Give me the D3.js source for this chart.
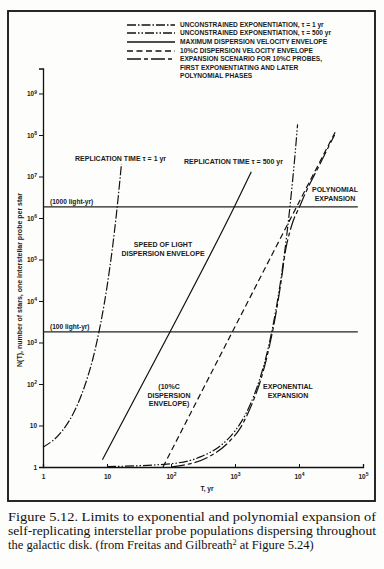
<!doctype html>
<meta charset="utf-8" />
<style>
    body { margin: 0; background: #fff; }
    svg text { font-family: "Liberation Sans", Arial, sans-serif; fill: #1a1a1a; }
    svg .cap { font-family: "Liberation Serif", "Times New Roman", serif; font-size: 12.5px; fill: #111; }
    svg .lbl { font-size: 7px; font-weight: bold; }
    svg .leg { font-size: 6.6px; font-weight: bold; }
</style>
<svg></svg>

<script src="https://cdn.jsdelivr.net/npm/d3@7/dist/d3.min.js"></script>

<script>
    // values: [T in yr, N(T)]
    var tau1 = [[1, 3], [2, 7.4], [3, 20], [4, 55], [5, 150], [6, 400], [7, 1100], [8, 3000],
        [9, 8100], [10, 2.2e4], [11, 6e4], [12, 1.6e5], [13, 4.4e5], [14, 1.2e6], [15, 3.3e6],
        [16, 8.9e6], [16.8, 2e7]];
    var tau500 = [[10, 1.02], [100, 1.2], [300, 1.8], [600, 3.3], [1000, 7.4], [1500, 20],
        [2000, 55], [2500, 150], [3000, 400], [3500, 1100], [4000, 3000], [4500, 8100],
        [5000, 2.2e4], [5500, 6e4], [6000, 1.6e5], [6500, 4.4e5], [7000, 1.2e6], [7500, 3.3e6],
        [8000, 8.9e6], [8500, 2.4e7], [9000, 6.6e7], [9500, 1.8e8]];
    var lightEnvelope = [[8.5, 1.5], [100, 2000], [1000, 2e6], [1800, 1.3e7]];
    var tenPctEnvelope = [[75, 1], [1000, 2400], [10000, 2.4e6], [39000, 1.4e8]];
    var expansion = [[100, 1], [400, 1.8], [800, 4], [1200, 8.5], [1600, 20], [2000, 45],
        [2500, 120], [3000, 330], [3500, 900], [4000, 2400], [4500, 6600], [5000, 1.8e4],
        [5500, 4.9e4], [6000, 1.3e5], [6500, 2.5e5], [7000, 4e5], [8000, 8e5], [10000, 1.75e6],
        [13000, 4.4e6], [16000, 8.5e6], [20000, 1.65e7], [25000, 3.3e7], [30000, 5.8e7],
        [36000, 1.0e8]];

    var distances = [1.85e6, 1.8e3];
    var distanceNames = ["(1000 light-yr)", "(100 light-yr)"];

    var xTicks = [1, 10, 100, 1e3, 1e4, 1e5];
    var yTicks = [1, 10, 100, 1e3, 1e4, 1e5, 1e6, 1e7, 1e8, 1e9];

    var legendNames = [
        ["UNCONSTRAINED EXPONENTIATION, τ = 1 yr"],
        ["UNCONSTRAINED EXPONENTIATION, τ = 500 yr"],
        ["MAXIMUM DISPERSION VELOCITY ENVELOPE"],
        ["10%C DISPERSION VELOCITY ENVELOPE"],
        ["EXPANSION SCENARIO FOR 10%C PROBES,", "FIRST EXPONENTIATING AND LATER", "POLYNOMIAL PHASES"]
    ];

    var series = [tau1, tau500, lightEnvelope, tenPctEnvelope, expansion];
    var dashes = ["9,2,1.5,2", "9,2,1.5,2,1.5,2", null, "6,3.5", "14,3,4,3"];

    var svg = d3.select('svg')
        .attr('width', 384)
        .attr('height', 569)

    svg.append('rect')
        .attr('width', 384).attr('height', 569).attr('fill', '#fdfdfc')

    svg.append('rect')
        .attr('x', 8).attr('y', 11).attr('width', 367).attr('height', 490)
        .attr('fill', 'none').attr('stroke', '#111').attr('stroke-width', 1.8)

    var x = d3.scaleLog().domain([1, 1e5]).range([43, 363]);
    var y = d3.scaleLog().domain([1, 4e9]).range([467, 68.5]);

    svg.append('g')
        .attr('transform', 'translate(0,467)')
        .call(d3.axisBottom(x).tickValues(xTicks).tickSize(-3).tickPadding(7))
    svg.append('g')
        .attr('transform', 'translate(43,0)')
        .call(d3.axisLeft(y).tickValues(yTicks).tickSize(4).tickPadding(2))

    svg.selectAll('.domain').attr('stroke', '#111').attr('stroke-width', 1.3)
    svg.selectAll('.tick line').attr('stroke', '#111')
    // powers of ten as 10 with a raised exponent
    svg.selectAll('.tick text')
        .attr('font-family', '"Liberation Sans", Arial, sans-serif')
        .attr('font-size', 6.5).attr('font-weight', 'bold').attr('fill', '#1a1a1a')
        .each(function (d) {
            var e = Math.round(Math.log10(d));
            var t = d3.select(this).text(e < 2 ? String(d) : '10');
            if (e >= 2) {
                t.append('tspan').attr('dy', '-0.45em').attr('font-size', 5).text(e);
            }
        })

    // distance reference lines
    svg.selectAll('.dist').data(distances).enter().append('line')
        .attr('x1', x(1)).attr('x2', x(8.3e4))
        .attr('y1', function (d) { return y(d); }).attr('y2', function (d) { return y(d); })
        .attr('stroke', '#222').attr('stroke-width', 1.1)
    svg.selectAll('.distName').data(distanceNames).enter().append('text')
        .attr('class', 'leg')
        .attr('x', 50)
        .attr('y', function (d, i) { return y(distances[i]) - 3; })
        .text(function (d) { return d; })

    var line = d3.line()
        .x(function (d) { return x(d[0]); })
        .y(function (d) { return y(d[1]); })
        .curve(d3.curveMonotoneX)

    series.forEach(function (s, i) {
        svg.append('path')
            .attr('d', line(s))
            .attr('fill', 'none')
            .attr('stroke', '#111')
            .attr('stroke-width', 1.2)
            .attr('stroke-dasharray', dashes[i])
    })

    // legend
    var rowY = [25, 33, 42, 51, 59];
    legendNames.forEach(function (names, i) {
        svg.append('line')
            .attr('x1', 127).attr('x2', 175)
            .attr('y1', rowY[i]).attr('y2', rowY[i])
            .attr('stroke', '#111').attr('stroke-width', 1.4)
            .attr('stroke-dasharray', dashes[i])
        names.forEach(function (t, j) {
            svg.append('text').attr('class', 'leg')
                .attr('x', 180).attr('y', rowY[i] + 2.4 + j * 8.5)
                .text(t)
        })
    })

    // annotations
    var notes = [
        { t: ["REPLICATION TIME τ = 1 yr"], x: 75, y: 161, a: 'start' },
        { t: ["REPLICATION TIME τ = 500 yr"], x: 184, y: 164, a: 'start' },
        { t: ["SPEED OF LIGHT", "DISPERSION ENVELOPE"], x: 163, y: 247, a: 'middle' },
        { t: ["POLYNOMIAL", "EXPANSION"], x: 335, y: 192, a: 'middle' },
        { t: ["(10%C", "DISPERSION", "ENVELOPE)"], x: 169, y: 389, a: 'middle' },
        { t: ["EXPONENTIAL", "EXPANSION"], x: 288, y: 389, a: 'middle' }
    ];
    notes.forEach(function (n) {
        n.t.forEach(function (t, j) {
            svg.append('text').attr('class', 'lbl')
                .attr('x', n.x).attr('y', n.y + j * 8.5)
                .attr('text-anchor', n.a)
                .text(t)
        })
    })

    svg.append('text').attr('class', 'leg')
        .attr('x', 207).attr('y', 491).attr('text-anchor', 'middle')
        .text('T, yr')

    svg.append('text').attr('class', 'lbl')
        .attr('transform', 'translate(22,280) rotate(-90)')
        .attr('text-anchor', 'middle')
        .text('N(T), number of stars, one interstellar probe per star')

    // caption
    var caption = [
        "Figure 5.12. Limits to exponential and polynomial expansion of",
        "self-replicating interstellar probe populations dispersing throughout",
        "the galactic disk. (from Freitas and Gilbreath"
    ];
    caption.forEach(function (t, i) {
        var tx = svg.append('text').attr('class', 'cap')
            .attr('x', 8).attr('y', 521 + i * 14)
        if (i < 2) {
            tx.attr('textLength', 368).attr('lengthAdjust', 'spacingAndGlyphs').text(t)
        } else {
            tx.text(t)
            tx.append('tspan').attr('dy', -4.5).style('font-size', '8px').text('2')
            tx.append('tspan').attr('dy', 4.5).text(' at Figure 5.24)')
        }
    })
</script>
